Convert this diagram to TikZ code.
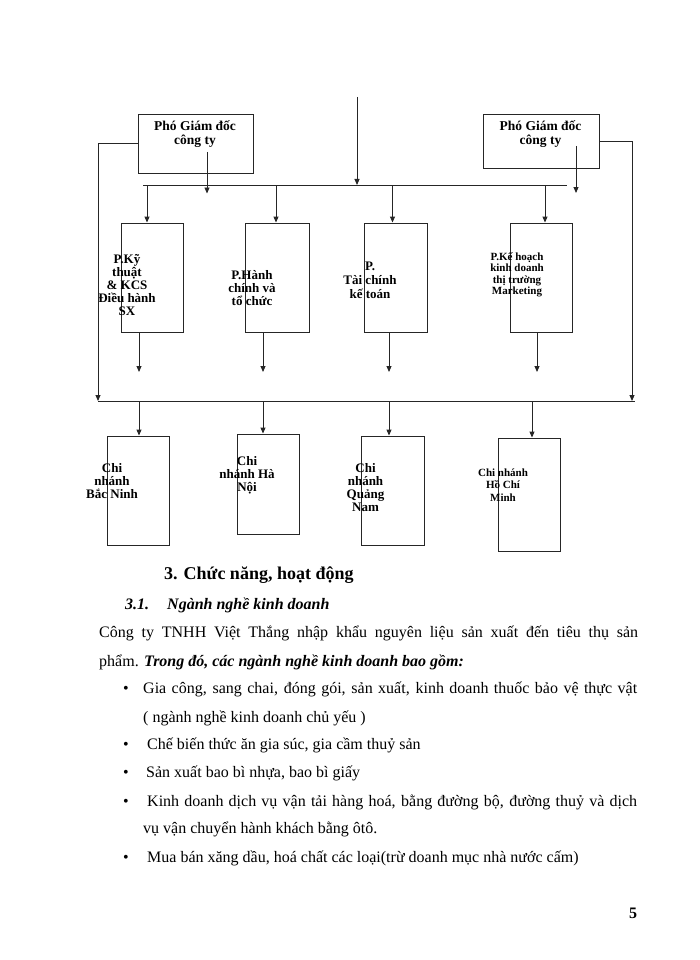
\documentclass[tikz,border=0pt]{standalone}
\usepackage{fontspec}
\setmainfont{Liberation Serif}
\usetikzlibrary{arrows.meta}

\begin{document}
\begin{tikzpicture}[x=1pt,y=-1pt,
	khung/.style={draw=black!85,line width=0.9pt,minimum width=62pt,minimum height=109pt,inner sep=0pt},
	duong/.style={draw=black!85,line width=0.9pt},
	muiten/.style={duong,-{Triangle[length=6pt,width=5pt]}},
	chu/.style={font=\fontsize{13}{13}\selectfont\bfseries,align=center,inner sep=0pt},
	dong/.style={anchor=base west,inner sep=0pt,font=\fontsize{16}{19}\selectfont}]
	\useasboundingbox (0,0) rectangle (700,960);
	% Giam doc
	\coordinate (gd) at (357,97);
	\coordinate (b1) at (0,185);
	\coordinate (b1L) at (143,185);
	\coordinate (b1R) at (567,185);
	\draw[duong] (b1L) -- (b1R);
	\draw[muiten] (gd) -- (gd |- b1);
	% Pho giam doc
	\node[khung,minimum width=115pt,minimum height=59pt] (pgd1) at (195.5,143.5) {};
	\node[khung,minimum width=116pt,minimum height=54pt] (pgd2) at (541,141) {};
	\node[chu,font=\fontsize{13.5}{14}\selectfont\bfseries] (tpgd1) at (195,134) {Phó Giám đốc\\công ty};
	\node[chu,font=\fontsize{13.5}{14}\selectfont\bfseries] (tpgd2) at (540.5,134) {Phó Giám đốc\\công ty};
	\coordinate (r1) at (0,188);
	\draw[muiten] ([shift={(11.5,8.5)}]pgd1.center) -- ([shift={(11.5,8.5)}]pgd1.center |- b1);
	\draw[muiten] ([shift={(35,5)}]pgd2.center) -- ([shift={(35,5)}]pgd2.center |- r1);
	% Phong ban
	\node[khung] (kt) at (152,277.5) {};
	\node[khung,minimum width=64pt] (hc) at (277,277.5) {};
	\node[khung,minimum width=63pt] (tc) at (395.5,277.5) {};
	\node[khung] (kh) at (541,277.5) {};
	\node[chu] (tkt) at (127,285.5) {P.Kỹ\\thuật\\\& KCS\\Điều hành\\SX};
	\node[chu] (thc) at (252,288.5) {P.Hành\\chính và\\tổ chức};
	\node[chu,font=\fontsize{13}{14}\selectfont\bfseries] (ttc) at (370,280.5) {P.\\Tài chính\\kế toán};
	\node[chu,font=\fontsize{11}{11.5}\selectfont\bfseries] (tkh) at (517,274.5) {P.Kế hoạch\\kinh doanh\\thị trường\\Marketing};
	\foreach \n/\s in {kt/-5,hc/-1,tc/-3,kh/4}
		\draw[muiten] ([xshift=\s]\n.north |- b1) -- ([xshift=\s]\n.north);
	\coordinate (giua) at (0,372);
	\foreach \n/\s in {kt/-13,hc/-14,tc/-6.5,kh/-4}
		\draw[muiten] ([xshift=\s]\n.south) -- ([xshift=\s]\n.south |- giua);
	% Chi nhanh
	\coordinate (b2) at (0,401);
	\coordinate (b2L) at (98,401);
	\coordinate (b2R) at (635,401);
	\coordinate (r2) at (632,401);
	\draw[duong] (b2L) -- (b2R);
	\draw[muiten] (pgd1.west) -| (b2L);
	\draw[muiten] (pgd2.east) -| (r2);
	\node[khung] (bn) at (138,490.5) {};
	\node[khung,minimum height=100pt] (hn) at (268,484) {};
	\node[khung,minimum width=63pt] (qn) at (392.5,490.5) {};
	\node[khung,minimum height=113pt] (hcm) at (529,494.5) {};
	\node[chu] (tbn) at (112,481) {Chi\\nhánh\\Bắc Ninh};
	\node[chu] (thn) at (247,475.5) {Chi\\nhánh Hà\\Nội};
	\node[chu] (tqn) at (365.5,487.5) {Chi\\nhánh\\Quảng\\Nam};
	\node[chu,font=\fontsize{11}{12.5}\selectfont\bfseries] (thcm) at (503,485) {Chi nhánh\\Hồ Chí\\Minh};
	\foreach \n/\s in {bn/1,hn/-5,qn/-3.5,hcm/3}
		\draw[muiten] ([xshift=\s]\n.north |- b2) -- ([xshift=\s]\n.north);
	% Chuc nang
	\node[dong,font=\fontsize{18}{20}\selectfont\bfseries] (tieude) at (164,579) {3. Chức năng, hoạt động};
	\node[dong,font=\fontsize{16}{19}\selectfont\bfseries\itshape] (muc) at (125,609) {3.1.};
	\node[dong,font=\fontsize{16}{19}\selectfont\bfseries\itshape] (tenmuc) at (167,609) {Ngành nghề kinh doanh};
	\node[dong] (l1) at (99,637) {\makebox[539pt][s]{Công ty TNHH Việt Thắng nhập khẩu nguyên liệu sản xuất đến tiêu thụ sản}};
	\node[dong] (l2) at (99,666) {phẩm. \textbf{\textit{Trong đó, các ngành nghề kinh doanh bao gồm:}}};
	\node[dong] (c1) at (123,693) {•};
	\node[dong] (l3) at (143,693) {\makebox[494pt][s]{Gia công, sang chai, đóng gói, sản xuất, kinh doanh thuốc bảo vệ thực vật}};
	\node[dong] (l4) at (143,722) {( ngành nghề kinh doanh chủ yếu )};
	\node[dong] (c2) at (123,749) {•};
	\node[dong] (l5) at (147,749) {Chế biến thức ăn gia súc, gia cầm thuỷ sản};
	\node[dong] (c3) at (123,777) {•};
	\node[dong] (l6) at (146,777) {Sản xuất bao bì nhựa, bao bì giấy};
	\node[dong] (c4) at (123,806) {•};
	\node[dong] (l7) at (147,806) {\makebox[490pt][s]{Kinh doanh dịch vụ vận tải hàng hoá, bằng đường bộ, đường thuỷ và dịch}};
	\node[dong] (l8) at (143,833) {vụ vận chuyển hành khách bằng ôtô.};
	\node[dong] (c5) at (123,862) {•};
	\node[dong] (l9) at (147,862) {Mua bán xăng dầu, hoá chất các loại(trừ doanh mục nhà nước cấm)};
	\node[dong,font=\fontsize{16}{19}\selectfont\bfseries] (so) at (629,918) {5};
\end{tikzpicture}
\end{document}
